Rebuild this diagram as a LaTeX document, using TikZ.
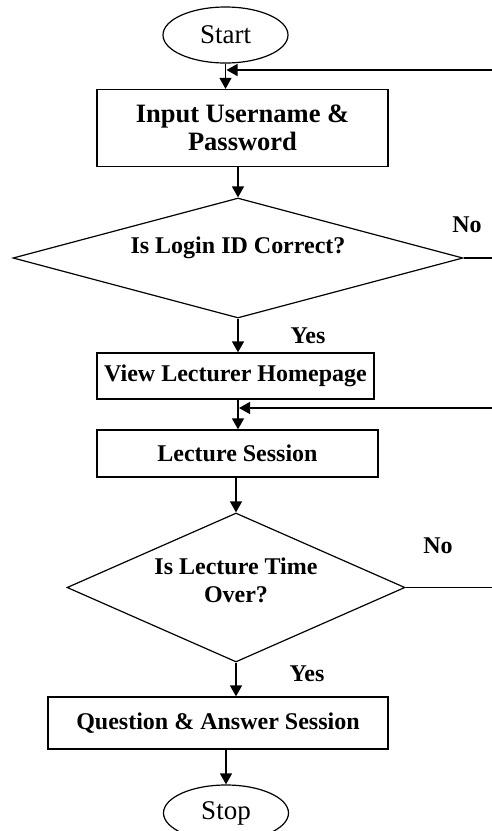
\documentclass[tikz,border=0pt]{standalone}
\usepackage{fontspec}
\setmainfont{Liberation Serif}
\usetikzlibrary{shapes.geometric,arrows.meta}
\begin{document}
\begin{tikzpicture}[x=1pt,y=-1pt,
  every node/.style={inner sep=0pt, font=\fontsize{24}{28}\selectfont\bfseries},
  proc/.style={draw, line width=1.3pt, align=center},
  term/.style={ellipse, draw, line width=1.2pt, minimum width=125pt, minimum height=56pt,
               font=\fontsize{27}{30}\selectfont},
  dec/.style={diamond, draw, line width=1.2pt},
  lbl/.style={align=center},
  flow/.style={line width=1.3pt, -{Triangle[length=11pt,width=12pt]}},
  back/.style={line width=1.3pt, -{Triangle[length=11pt,width=12pt]}}]

\useasboundingbox (0,0) rectangle (492,831);
\clip (0,0) rectangle (492,831);
\fill[white] (0,0) rectangle (492,831);

% terminals
\node[term] (start) at (225.5,35) {Start};
\node[term] (stop)  at (226,813) {Stop};

% process boxes
\node[proc, minimum width=291pt, minimum height=77pt,
      font=\fontsize{26.5}{28.5}\selectfont\bfseries] (input) at (242.5,128)
  {Input Username \&\\Password};
\node[proc, minimum width=277pt, minimum height=46pt] (view) at (235.5,376)
  {View Lecturer Homepage};
\node[proc, minimum width=281pt, minimum height=47pt] (lect) at (237.5,453.5)
  {Lecture Session};
\node[proc, minimum width=340pt, minimum height=52pt] (qa) at (218,723)
  {Question \& Answer Session};

% decisions
\node[dec, minimum width=450pt, minimum height=120pt] (d1) at (238,258) {};
\node[lbl] (d1t) at (238,248) {Is Login ID Correct?};
\node[dec, minimum width=338pt, minimum height=149pt] (d2) at (236,587.5) {};
\node[lbl] (d2t) at (236,580) {Is Lecture Time\\Over?};

% branch labels
\node (no1)  at (467,225) {No};
\node (yes1) at (308,336) {Yes};
\node (no2)  at (438,546) {No};
\node (yes2) at (307,674) {Yes};

% main flow
\draw[flow] (start.south) -- (start.south |- input.north);
\draw[flow] (input.south -| d1.north) -- (d1.north);
\draw[flow] (d1.south) -- (d1.south |- view.north);
\draw[flow] (d1.south |- view.south) -- (d1.south |- lect.north);
\draw[flow] (lect.south -| d2.north) -- (d2.north);
\draw[flow] (d2.south) -- (d2.south |- qa.north);
\draw[flow] (stop.north |- qa.south) -- (stop.north);

% loop-back connectors
\coordinate (j1) at (start.south |- 0,70);
\coordinate (j2) at (d1.south |- 0,408);
\coordinate (r1) at (495,0);
\draw[back] (d1.east) -- (d1.east -| r1) -- (r1 |- j1) -- ([xshift=1pt]j1);
\draw[back] (d2.east) -- (d2.east -| r1) -- (r1 |- j2) -- ([xshift=1pt]j2);

\end{tikzpicture}
\end{document}
